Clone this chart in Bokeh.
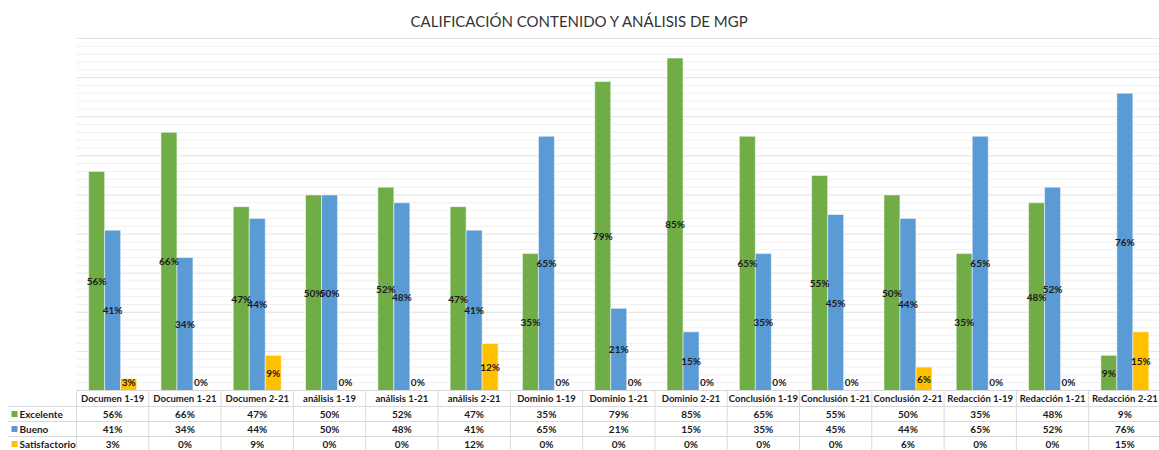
import numpy as np
from bokeh.plotting import figure
from bokeh.models import Range1d
from bokeh.embed import file_html
from bokeh.resources import INLINE
from bokeh.core.properties import value

# ---------------- data ----------------
categories = ["Documen 1-19", "Documen 1-21", "Documen 2-21",
              "análisis 1-19", "análisis 1-21", "análisis 2-21",
              "Dominio 1-19", "Dominio 1-21", "Dominio 2-21",
              "Conclusión 1-19", "Conclusión 1-21", "Conclusión 2-21",
              "Redacción 1-19", "Redacción 1-21", "Redacción 2-21"]
excelente = [56, 66, 47, 50, 52, 47, 35, 79, 85, 65, 55, 50, 35, 48, 9]
bueno = [41, 34, 44, 50, 48, 41, 65, 21, 15, 35, 45, 44, 65, 52, 76]
satisfactorio = [3, 0, 9, 0, 0, 12, 0, 0, 0, 0, 0, 6, 0, 0, 15]
series_names = ["Excelente", "Bueno", "Satisfactorio"]
title_text = "CALIFICACIÓN CONTENIDO Y ANÁLISIS DE MGP"

# ---------------- style / layout ----------------
colors = ["#70AD47", "#5B9BD5", "#FFC000"]
FONT = "Lato"
TXT = "#1a1a1a"
GRID_MINOR = "#f0f0f0"
GRID_MAJOR = "#e2e2e2"
TABLE_LINE = "#d9d9d9"

W, H = 1159, 450
COL_PX = 72.3            # pixel width of one category column
LEFT_PX = 76             # pixels from frame left to first column
TITLE_PX = 30            # height of title panel
BASE_PX = 390 - TITLE_PX  # baseline distance from frame top
PX_PER_UNIT = 3.911

frame_h = H - TITLE_PX
x0 = -LEFT_PX / COL_PX
x1 = x0 + W / COL_PX
y1 = BASE_PX / PX_PER_UNIT
y0 = y1 - frame_h / PX_PER_UNIT

p = figure(width=W, height=H, output_backend="svg", toolbar_location=None,
           x_range=Range1d(x0, x1), y_range=Range1d(y0, y1),
           min_border_left=0, min_border_right=0, min_border_bottom=0,
           min_border_top=TITLE_PX, title=title_text)
p.title.align = "center"
p.title.vertical_align = "bottom"
p.title.standoff = 1
p.title.text_font = FONT
p.title.text_font_size = "15px"
p.title.text_font_style = "normal"
p.title.text_color = "#333333"
p.axis.visible = False
p.xgrid.visible = False
p.ygrid.visible = False
p.outline_line_color = None
p.background_fill_color = "white"
p.border_fill_color = "white"

n = len(categories)
idx = np.arange(n)

# gridlines (2% minor, 10% major) over the plot area only
minor = np.arange(2, 91, 2)
minor = minor[minor % 10 != 0]
major = np.arange(10, 91, 10)
p.segment(x0=0, x1=n, y0=minor, y1=minor, line_color=GRID_MINOR, line_width=1)
p.segment(x0=0, x1=n, y0=major, y1=major, line_color=GRID_MAJOR, line_width=1)

# bars
bw = 16 / COL_PX
series = [excelente, bueno, satisfactorio]
offsets = [-bw, 0, bw]
for vals, col, off in zip(series, colors, offsets):
    p.vbar(x=idx + 0.5 + off, top=vals, bottom=0, width=bw,
           fill_color=col, line_color="white", line_alpha=0.5, line_width=1)

# data labels (centered, clamped above baseline)
for vals, off in zip(series, offsets):
    ys = np.maximum(np.array(vals) / 2.0, 2.3)
    p.text(x=idx + 0.5 + off, y=ys, text=[f"{v}%" for v in vals],
           text_align="center", text_baseline="middle",
           text_font=value(FONT), text_font_size="10px",
           text_font_style="bold", text_color=TXT)

# data table
row_lines = [-4.09, -7.93, -11.76]
row_centers = [-6.0, -9.84, -13.68]
header_y = -2.05
p.segment(x0=0, x1=n, y0=0, y1=0, line_color=TABLE_LINE, line_width=1)
p.segment(x0=x0 + 7 / COL_PX, x1=n, y0=row_lines, y1=row_lines,
          line_color=TABLE_LINE, line_width=1)
p.segment(x0=np.arange(n + 1), x1=np.arange(n + 1), y0=0, y1=y0,
          line_color=TABLE_LINE, line_width=1)
p.text(x=idx + 0.5, y=header_y, text=categories, text_align="center",
       text_baseline="middle", text_font=value(FONT), text_font_size="9.5px",
       text_font_style="bold", text_color=TXT)
for vals, yc in zip(series, row_centers):
    p.text(x=idx + 0.5, y=yc, text=[f"{v}%" for v in vals], text_align="center",
           text_baseline="middle", text_font=value(FONT), text_font_size="10px",
           text_font_style="bold", text_color=TXT)

# row labels with legend keys
key_x = (14 - LEFT_PX) / COL_PX
lab_x = (19 - LEFT_PX) / COL_PX
p.scatter(x=[key_x] * 3, y=row_centers, marker="square", size=6,
          fill_color=colors, line_color=None)
p.text(x=[lab_x] * 3, y=row_centers, text=series_names, text_align="left",
       text_baseline="middle", text_font=value(FONT), text_font_size="10px",
       text_font_style="bold", text_color=TXT)

open("out.html", "w").write(file_html(p, INLINE))
